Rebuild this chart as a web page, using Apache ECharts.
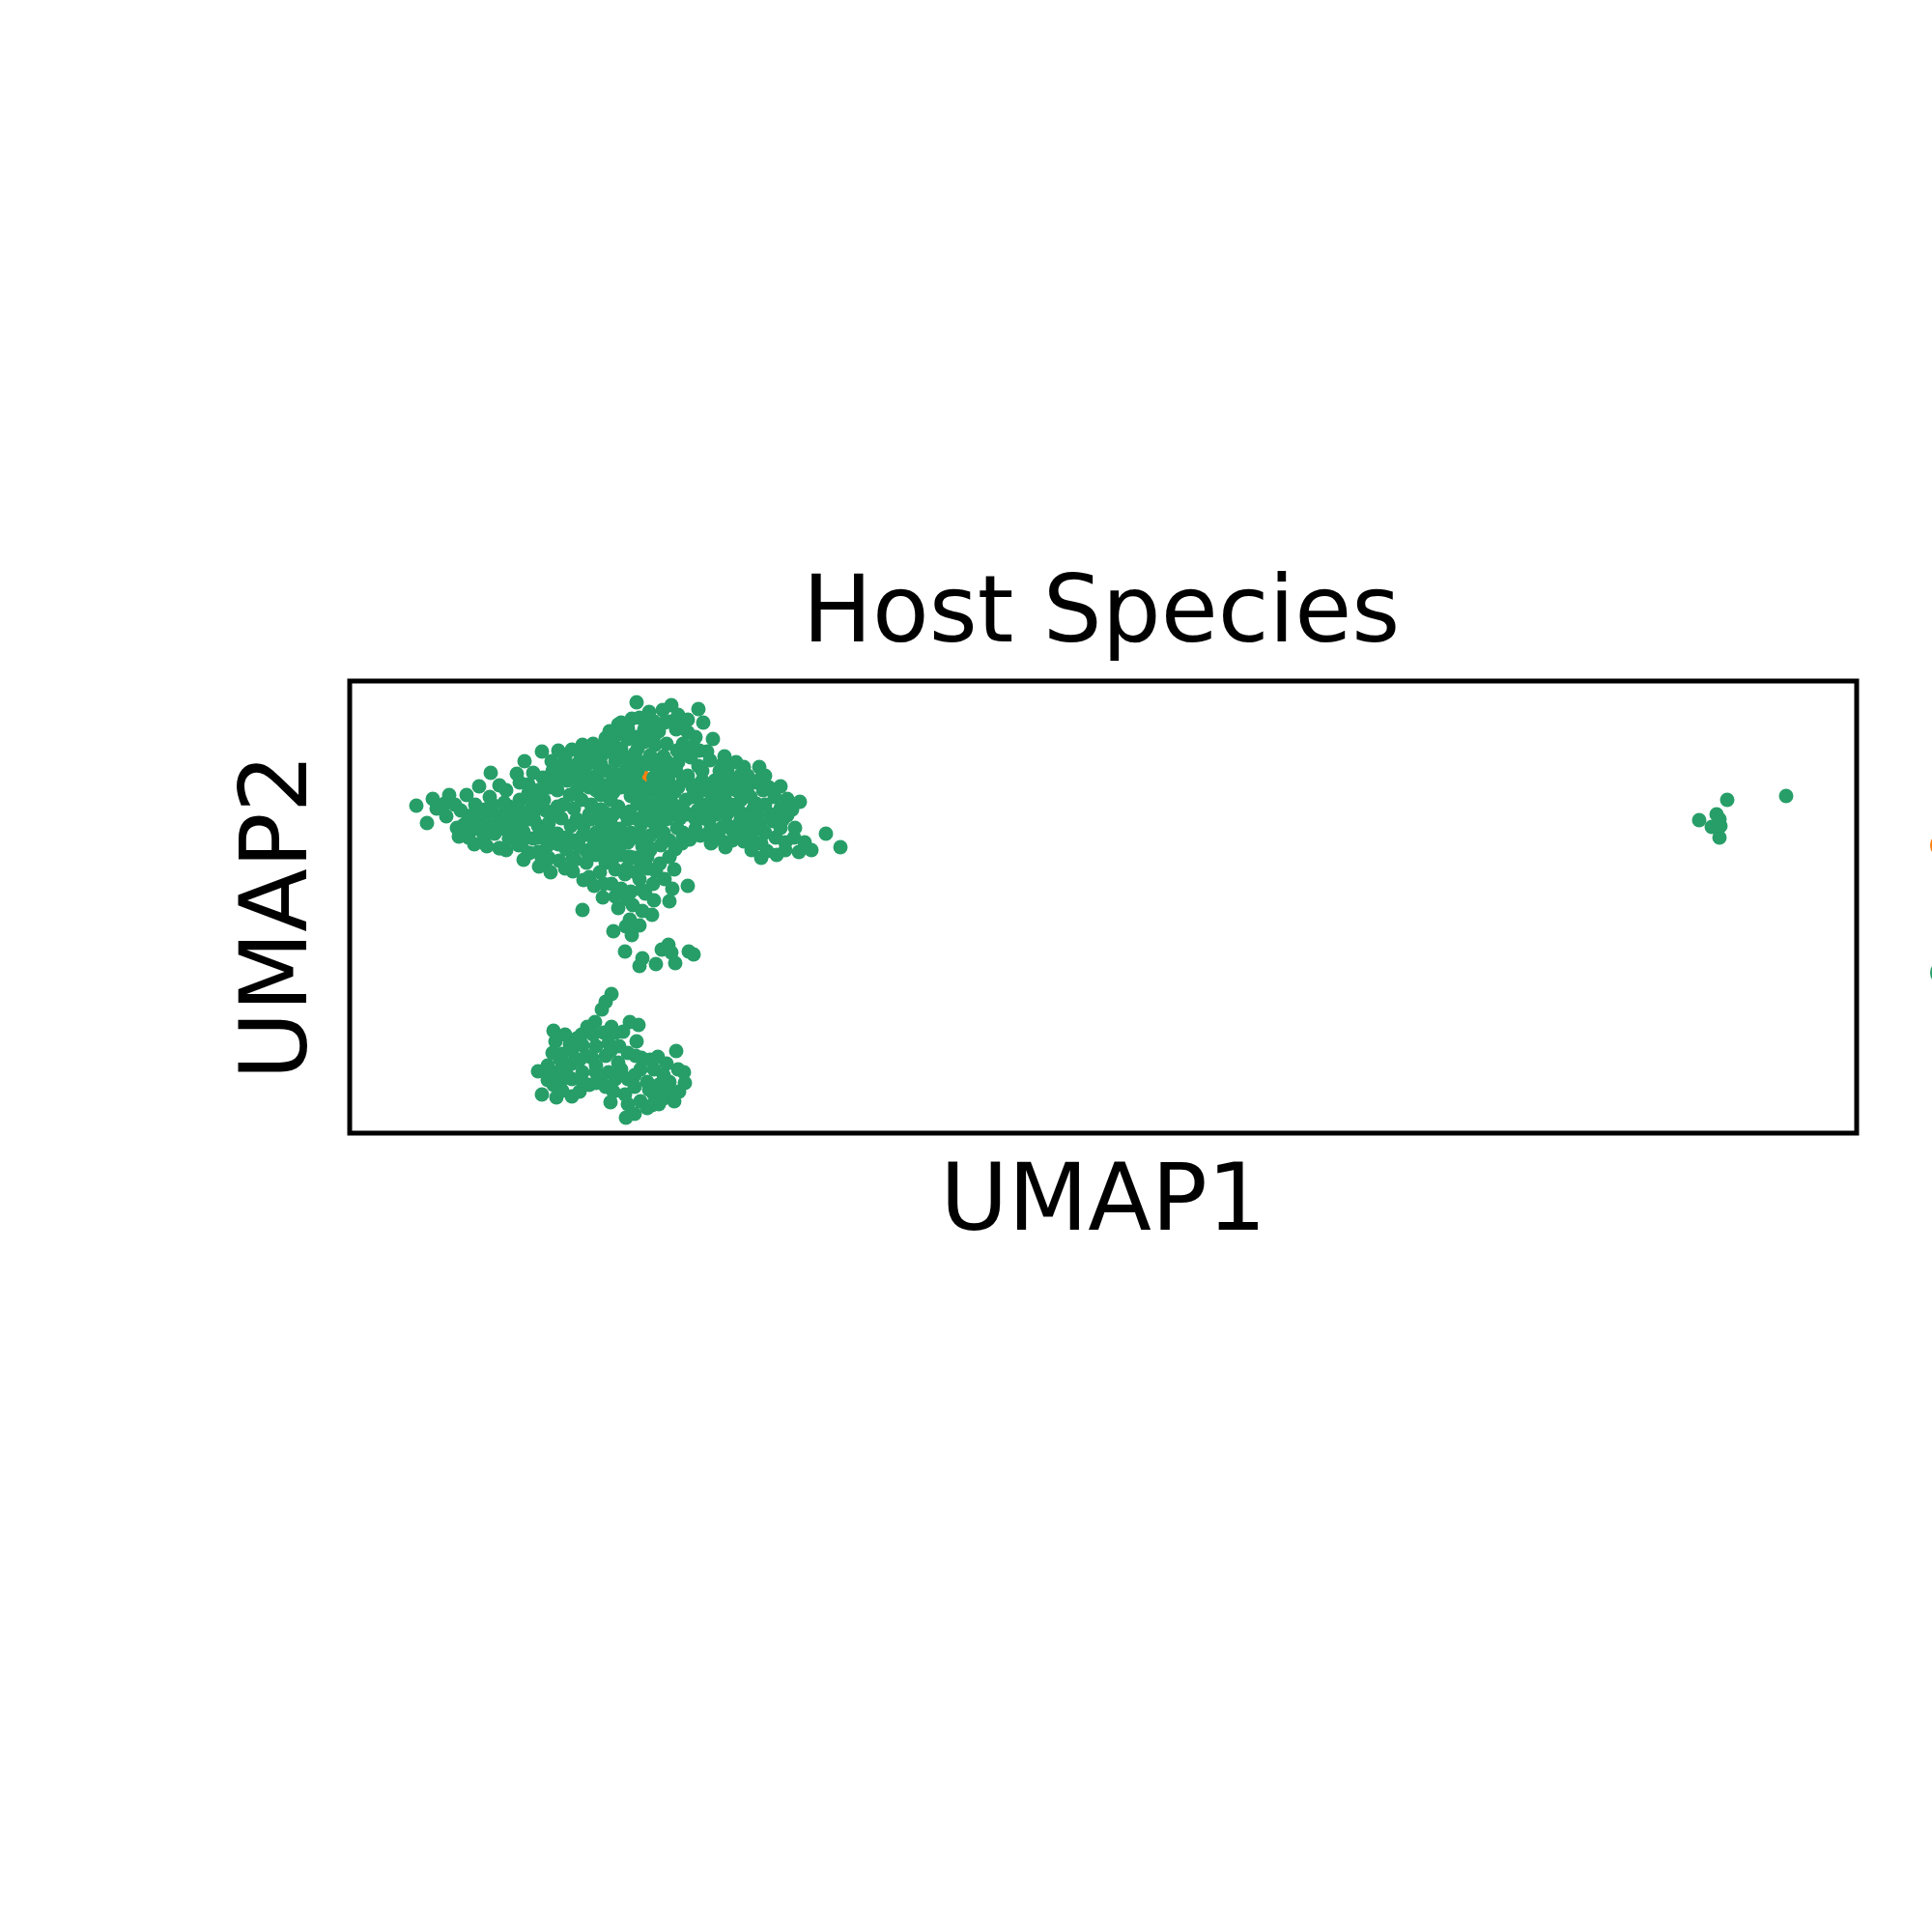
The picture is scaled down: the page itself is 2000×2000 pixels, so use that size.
<!DOCTYPE html>
<html>
<head>
<meta charset="utf-8">
<script src="https://cdn.jsdelivr.net/npm/echarts@6/dist/echarts.min.js"></script>
<style>html,body{margin:0;padding:0;background:#fff}#chart{width:2000px;height:2000px}</style>
</head>
<body>
<div id="chart"></div>
<script>
const chartTitle = 'Host Species';
const xName = 'UMAP1';
const yName = 'UMAP2';
const categories = ['Mus musculus', 'Homo sapiens'];
const colors = ['#ff7f0e', '#279e68'];

// orange category (UMAP1, UMAP2)
const orangePoints = [[30.5, 36.8]];

// green category, main upper cluster
const greenMain = [
  [6.9,33.9],[8.0,32.1],[9.8,34.1],[10.3,35.0],[10.0,32.8],[11.1,31.6],[12.3,30.6],[13.1,31.5],
  [12.3,32.8],[12.1,35.0],[13.4,35.9],[14.6,37.3],[15.5,36.0],[14.5,34.8],[14.8,32.8],[15.8,33.0],
  [15.5,32.1],[17.6,36.3],[18.5,36.1],[18.1,38.5],[19.9,39.5],[21.6,39.6],[23.0,39.7],[24.1,40.2],
  [25.2,40.3],[26.5,40.9],[27.8,42.3],[28.8,41.9],[29.7,44.6],[21.0,37.5],[22.1,38.1],[23.1,38.0],
  [23.5,36.8],[24.8,38.3],[17.6,34.5],[17.5,33.5],[18.8,34.3],[20.1,34.5],[18.5,32.5],[19.5,31.8],
  [20.6,32.1],[21.5,33.8],[22.1,34.0],[22.8,35.0],[17.1,31.8],[16.5,30.5],[15.5,29.5],[17.5,29.8],
  [18.5,29.0],[19.5,29.1],[20.5,29.8],[20.6,28.5],[22.5,30.6],[24.3,30.9],[23.1,28.5],[24.8,33.0],
  [26.1,32.1],[25.5,31.1],[24.8,35.8],[24.5,37.1],[25.5,36.5],[26.5,37.5],[27.5,38.5],[28.1,39.8],
  [28.8,40.8],[26.1,39.1],[26.8,35.1],[28.1,35.8],[29.1,37.1],[27.8,33.8],[28.8,32.5],[26.5,33.1],
  [27.5,30.8],[28.8,30.1],[26.5,29.8],[25.5,28.8],[28.1,28.8],[29.5,28.5],[23.5,32.5],
  [33.3,44.3],[36.1,43.9],[34.0,43.3],[35.0,42.8],[36.6,42.5],[31.5,42.6],[33.8,41.8],[35.0,41.5],
  [37.6,40.8],[31.5,41.1],[32.8,40.3],[34.5,40.3],[35.6,40.0],[38.8,39.0],[37.3,38.6],[42.4,37.9],
  [36.1,38.0],[39.1,37.5],[40.5,37.1],[41.8,36.3],[37.8,36.5],[39.5,35.8],[41.1,35.5],[42.1,34.1],
  [41.8,33.6],[40.5,34.5],[38.8,34.8],[37.5,34.8],[37.3,33.5],[39.1,33.1],[40.5,32.6],[39.5,31.5],
  [39.8,30.8],[38.5,31.6],[37.3,31.3],[37.5,30.1],[35.8,31.5],[35.8,32.5],[34.5,31.1],[34.5,33.5],
  [34.8,34.5],[35.5,35.8],[34.5,36.5],[33.8,37.5],[32.8,38.5],[31.8,37.5],[31.1,39.1],[29.8,39.8],
  [28.8,41.5],[30.5,41.8],[28.1,42.5],[29.8,37.5],[28.8,35.8],[31.1,35.8],[32.8,35.1],[32.5,34.1],
  [31.1,33.8],[29.8,34.1],[28.5,33.1],[29.8,32.5],[31.5,32.1],[32.8,32.5],[32.5,31.1],[33.1,30.3],
  [31.1,30.8],[29.1,31.1],[28.5,30.1],[31.1,29.5],[33.1,28.6],[28.8,28.6],[29.8,28.5],
  [44.0,34.8],[46.6,34.3],[43.6,33.0],[45.3,32.9],[42.5,32.1],[43.0,31.1],[42.6,30.0],[44.1,30.6],
  [45.1,30.1],[46.1,31.6],[46.0,30.6],[47.1,30.1],[47.8,29.3],[46.5,29.1],[45.1,29.3],[49.3,31.0],
  [50.8,29.6],[42.6,28.5],
  [26.0,35.0],[27.0,34.5],[28.0,37.0],[29.0,38.0],[30.0,36.0],[31.45,36.8],[29.55,36.8],[32.0,36.0],
  [33.0,36.5],[27.5,40.0],[30.5,40.5],[32.5,39.0],[26.0,33.5],[30.5,33.0],[33.5,34.0],[36.5,34.0],
  [35.0,37.0],[36.5,36.5],[37.0,39.5],[25.0,34.0],[23.5,35.5],
  [41.0,36.0],[40.0,35.5],[39.5,34.0],[41.5,34.8],[42.8,35.5],[43.0,34.0],[41.0,33.0],[38.0,33.0],
  [39.0,32.0],[42.0,31.5],
  [16.5,33.8],[19.0,33.0],[17.0,30.8],[18.0,31.2],[19.0,30.5],[21.0,31.0],[16.0,31.5],[21.5,35.5],
  [22.5,36.5],[20.0,36.8],[19.5,35.5],
  [24.0,39.0],[25.0,39.2],[26.0,38.2],[27.0,39.5],[28.5,38.9],[29.8,38.6],[30.8,38.2],[31.6,40.2],
  [32.0,41.6],[33.2,42.6],[30.0,43.0],[29.2,42.9],[31.0,43.6],[32.4,43.8],[26.9,41.6],[25.8,37.3],
  [27.2,36.4],[28.3,36.2],[29.4,36.0],[30.3,35.0],[31.7,35.1],[32.9,37.7],[34.0,38.4],[35.3,38.9],
  [36.2,39.6],[33.9,39.6],[27.3,35.3],[29.1,34.9],[30.6,34.2],[31.9,34.4],[33.6,35.3],[34.2,32.6],
  [33.2,33.3],[31.9,33.0],[30.2,32.0],[29.0,33.3],[27.0,32.2],[25.8,32.8],[25.3,30.2],[26.8,31.0],
  [27.8,29.5],[30.3,29.7],[32.2,29.8],[33.7,29.4],[34.4,30.0],[35.2,30.4],[36.3,30.8],[36.5,32.6],
  [36.0,33.4],[35.5,34.8],[37.2,35.6],[36.3,35.4],[38.3,37.5],[38.2,35.8],[39.8,36.6],[40.8,37.9],
  [41.2,37.0],[42.6,36.8],[43.4,35.8],[44.6,35.9],[45.3,34.6],[44.6,33.6],[43.8,32.3],[44.6,31.6],
  [41.4,32.0],[40.6,31.1],[38.3,30.5],[38.9,29.6],[40.8,30.2],[41.6,29.3],[37.2,32.3],[38.4,34.1],
  [40.2,33.5],[24.0,34.5],[23.2,33.6],[24.2,31.8],[22.9,31.8],[21.9,32.6],[21.0,33.0],[20.3,33.4],
  [19.6,34.2],[18.2,33.2],[17.0,32.6],[16.4,32.7],[15.0,31.0],[14.2,31.6],[13.9,30.6],[14.0,33.5],
  [13.0,34.0],[12.8,33.0],[11.5,33.4],[11.8,31.9],[10.9,34.0],[9.0,33.6],[8.6,34.6],[20.7,35.8],
  [21.9,36.9],[23.6,37.6],[24.0,36.3],[22.3,38.9],[20.9,38.5],[19.0,37.3],[17.3,37.2],[16.2,35.5],
  [25.5,35.5],[26.5,36.0],[27.5,37.2],[28.6,37.6],[29.5,39.3],[31.8,38.6],[32.2,37.0],
  [33.5,38.0],[34.7,39.3],[26.3,39.9],[27.6,41.2],[29.6,41.0],[30.8,42.3],[32.6,42.5],[34.3,42.0],
  [35.8,41.0],[36.5,37.5],[35.7,36.0],[34.0,35.8],[32.8,33.8],[31.3,32.5],[30.0,31.0],[28.0,31.5],
  [27.3,33.0],[26.0,30.9],[25.0,32.5],[24.5,29.2],[26.8,29.0],[30.8,28.6],[32.0,31.5],[33.9,31.6],
  [35.0,33.0],[37.0,33.8],[38.0,31.3],[39.6,30.3],[40.2,31.9],[41.6,30.7],[43.2,29.2],[44.2,28.8],
  [43.0,37.0],[40.0,38.4],[38.6,38.2],[39.0,36.8],[42.2,33.0],[44.8,32.4],[45.8,33.5],[23.8,38.5],
  [22.8,37.5],[21.2,36.5],[20.0,35.7],[18.5,35.2],[17.8,32.2],[16.0,34.2],[14.8,34.0],[13.5,32.5],
  [12.6,31.7],[11.3,30.7],[12.9,29.9],[14.2,29.7],[16.2,29.3],[18.0,28.3],[19.1,32.4],[20.4,31.4],
  [22.0,30.2],[23.2,30.3]
];

// green category, lower tail of the main cluster
const greenTail = [
  [15.5,29.5],[16.5,30.5],[17.8,30.0],[18.6,29.0],[20.5,30.0],[20.3,28.1],[20.8,27.0],[22.5,30.6],
  [24.1,30.8],[23.3,28.3],[23.1,27.1],[24.5,28.0],[24.8,26.5],[25.3,25.6],[25.8,29.3],[26.5,28.0],
  [26.3,25.8],[27.1,25.8],[27.5,27.3],[27.0,30.0],[28.1,30.3],[28.5,26.8],[28.1,25.3],[29.0,28.6],
  [29.1,25.0],[30.0,26.3],[30.1,28.1],[31.1,29.3],[29.5,30.6],[30.6,24.8],[31.5,24.1],[29.3,23.6],
  [27.8,23.3],[31.3,22.6],[29.0,22.1],[30.0,21.5],[27.3,20.9],[24.1,23.1],[31.7,27.1],[33.1,28.6],
  [33.6,27.3],[33.4,25.3],[35.0,25.6],[33.1,24.0],[32.5,30.5],[34.5,30.8],[35.8,31.0],[37.4,30.0],
  [28.5,18.8],[30.3,18.1],[30.0,17.3],[31.7,17.5],[32.3,19.0],[33.0,19.5],[33.3,18.7],[33.7,17.6],
  [35.1,18.8],[35.6,18.5],[25.8,30.6],[24.8,29.3],[21.5,31.0],[19.5,30.6],[19.9,28.4],
  [23.8,29.6],[22.4,29.4],[21.6,29.9],[21.7,28.2],[19.6,27.6],[22.3,27.4],[24.2,26.2],[25.9,27.0],
  [27.3,28.5],[28.7,27.4],[29.6,27.0],[30.9,27.4],[32.1,27.9],[32.6,26.3],[31.4,25.8],[30.2,25.2],
  [27.5,24.5],[26.2,24.4],[28.8,24.2],[30.3,23.0],[28.6,21.4],[29.2,20.5]
];

// green category, lower cluster
const greenLower = [
  [27.1,14.4],[26.5,13.6],[26.1,12.8],[21.1,10.6],[22.3,10.2],[21.3,9.5],[24.6,11.0],[25.4,11.5],
  [27.1,11.0],[27.5,10.4],[29.0,11.5],[29.9,11.2],[29.7,9.5],[19.5,6.4],[19.9,4.0],[21.4,3.7],
  [21.8,7.6],[23.0,8.6],[24.1,9.1],[25.5,9.0],[26.8,9.3],[27.9,9.0],[28.8,8.3],[21.5,6.3],
  [22.6,7.0],[23.8,7.6],[25.1,7.8],[26.5,8.0],[27.8,7.3],[28.1,6.6],[26.8,6.3],[25.5,6.3],
  [24.1,6.3],[23.0,5.6],[21.8,5.3],[21.1,5.0],[23.8,4.3],[24.8,5.0],[26.5,4.8],[27.5,5.6],
  [28.8,5.6],[30.1,6.6],[31.1,7.6],[31.5,6.6],[33.8,8.5],[34.0,6.6],[34.6,6.3],[33.1,5.3],
  [32.5,6.0],[30.8,5.3],[29.5,4.8],[28.5,4.0],[28.8,3.0],[29.5,2.0],[30.1,3.3],[31.5,4.0],
  [32.5,3.6],[33.6,3.3],[34.1,4.3],[32.0,3.0],[30.8,2.6],
  [22.0,8.2],[23.0,7.2],[24.5,8.0],[25.5,7.0],[26.0,5.5],[24.0,5.5],[22.5,6.0],[23.5,9.8],
  [27.0,8.5],[20.5,7.0],[20.5,5.5],[29.5,6.0],[31.0,4.5],[32.0,5.0],
  [22.8,9.2],[24.0,10.2],[25.2,10.2],[26.3,10.4],[28.3,10.5],[21.0,8.3],[20.8,6.2],[22.0,4.4],
  [23.0,3.8],[25.5,5.2],[27.3,4.3],[27.0,3.2],[30.2,7.8],[32.8,7.2],[31.9,7.9],[33.0,4.5],
  [34.7,5.2],[29.6,8.0],[31.3,2.9],[28.6,1.6]
];

// green category, small far-right cluster
const greenRight = [
  [142.6,34.5],[148.7,34.9],[139.7,32.4],[141.5,33.0],[141.8,32.5],[141.0,31.7],[141.9,31.8],[141.8,30.6]
];

const greenPoints = greenMain.concat(greenTail, greenLower, greenRight);

const FONT = '"DejaVu Sans", sans-serif';
const chart = echarts.init(document.getElementById('chart'), null, {renderer: 'canvas'});
chart.setOption({
  animation: false,
  backgroundColor: '#ffffff',
  grid: {left: 362, right: 78, top: 705, bottom: 827, show: true, borderColor: '#000', borderWidth: 5, backgroundColor: 'transparent'},
  xAxis: {
    type: 'value', min: 0, max: 156,
    name: xName, nameLocation: 'middle', nameGap: 27,
    nameTextStyle: {fontFamily: FONT, fontSize: 96, color: '#000'},
    axisLine: {show: false}, axisTick: {show: false}, axisLabel: {show: false}, splitLine: {show: false}
  },
  yAxis: {
    type: 'value', min: 0, max: 46.8,
    name: yName, nameLocation: 'middle', nameGap: 22,
    nameTextStyle: {fontFamily: FONT, fontSize: 96, color: '#000', padding: [0, 20, 0, 0]},
    axisLine: {show: false}, axisTick: {show: false}, axisLabel: {show: false}, splitLine: {show: false}
  },
  legend: {
    orient: 'vertical', left: 1998, top: 862, icon: 'circle', padding: 0,
    itemWidth: 26, itemHeight: 26, itemGap: 106,
    textStyle: {fontFamily: FONT, fontSize: 18, lineHeight: 20, color: '#000'},
    data: categories
  },
  graphic: [{
    type: 'text', x: 1140, y: 639,
    style: {text: chartTitle, font: '96px "DejaVu Sans"', fill: '#000', align: 'center', verticalAlign: 'middle'}
  }],
  series: [
    {name: categories[0], type: 'scatter', data: orangePoints, symbolSize: 15, itemStyle: {color: colors[0], opacity: 1}},
    {name: categories[1], type: 'scatter', data: greenPoints, symbolSize: 15, itemStyle: {color: colors[1], opacity: 1}}
  ]
});
</script>
</body>
</html>
